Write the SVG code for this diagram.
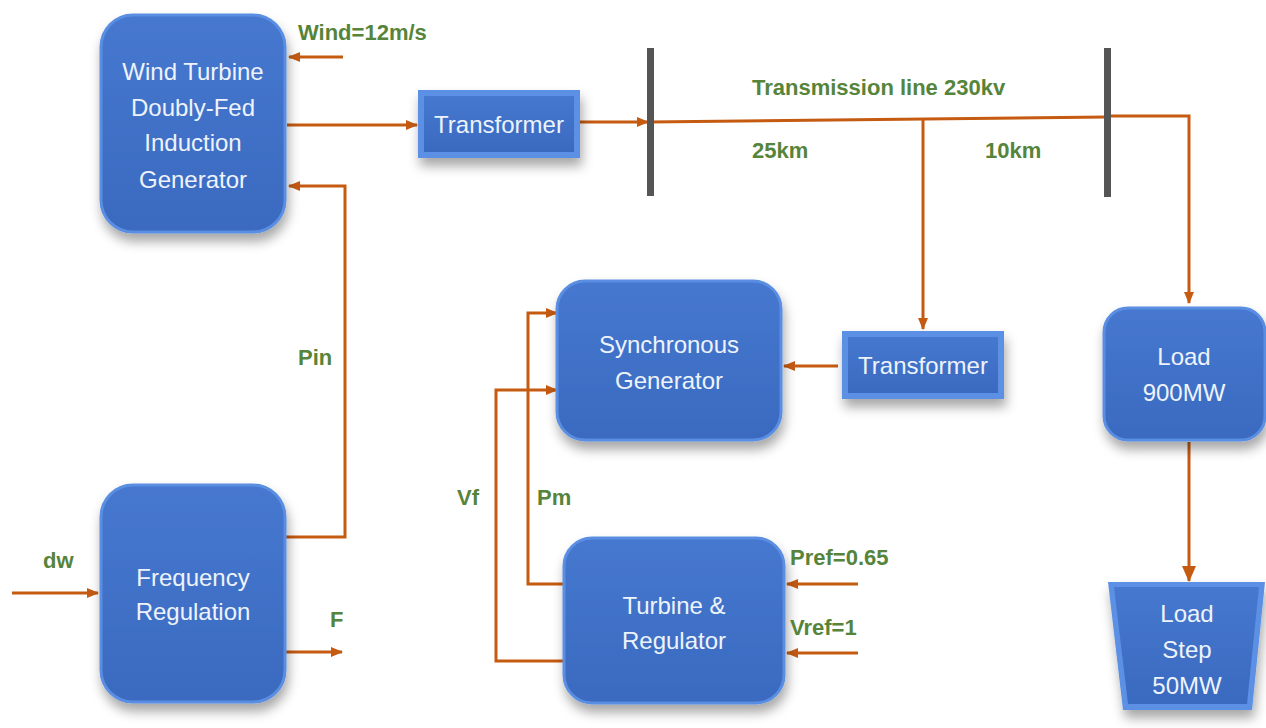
<svg xmlns="http://www.w3.org/2000/svg" width="1266" height="728" viewBox="0 0 1266 728">
<defs>
<style>
.box{fill:url(#bg);stroke:#5a8ee2;stroke-width:3;filter:url(#sh)}
.tr{fill:#5b90e4;filter:url(#sh)}
.tri{fill:url(#bg)}
.t{font-family:"Liberation Sans",Arial,sans-serif;font-size:24px;fill:#eef3fb;text-anchor:middle}
.g{font-family:"Liberation Sans",Arial,sans-serif;font-size:22px;font-weight:bold;fill:#55843a}
.c{fill:none;stroke:#c55a11;stroke-width:3}
.bus{fill:#555}
</style>
<linearGradient id="bg" x1="0" y1="0" x2="0" y2="1">
<stop offset="0" stop-color="#4678cf"/>
<stop offset="1" stop-color="#3a6ac0"/>
</linearGradient>
<filter id="sh" x="-20%" y="-20%" width="140%" height="150%">
<feDropShadow dx="2" dy="8" stdDeviation="6" flood-color="#000" flood-opacity="0.35"/>
</filter>
<marker id="a" markerWidth="12" markerHeight="10" refX="11" refY="5" orient="auto" markerUnits="userSpaceOnUse">
<path d="M0,0 L12,5 L0,10 Z" fill="#c55a11"/>
</marker>
<marker id="ab" markerWidth="16" markerHeight="14" refX="15" refY="7" orient="auto" markerUnits="userSpaceOnUse">
<path d="M0,0 L16,7 L0,14 Z" fill="#c55a11"/>
</marker>
</defs>
<rect width="1266" height="728" fill="#fff"/>

<g id="connectors">
<path class="c" d="M343,57 H289" marker-end="url(#a)"/>
<path class="c" d="M287,125 H417" marker-end="url(#a)"/>
<path class="c" d="M580,122 H648" marker-end="url(#a)"/>
<path class="c" d="M650,122 L1107,117"/>
<path class="c" d="M1107,116 H1189 V303" marker-end="url(#a)"/>
<path class="c" d="M923,119 V329" marker-end="url(#a)"/>
<path class="c" d="M838,366 H784" marker-end="url(#a)"/>
<path class="c" d="M286,537 H345 V186 H289" marker-end="url(#a)"/>
<path class="c" d="M12,593 H98" marker-end="url(#a)"/>
<path class="c" d="M286,652 H342" marker-end="url(#a)"/>
<path class="c" d="M563,584 H528 V313 H557" marker-end="url(#a)"/>
<path class="c" d="M563,661 H496 V390 H557" marker-end="url(#a)"/>
<path class="c" d="M858,584 H787" marker-end="url(#a)"/>
<path class="c" d="M858,653 H787" marker-end="url(#a)"/>
<path class="c" d="M1189,442 V581" stroke-width="5" marker-end="url(#ab)"/>
</g>

<g id="bus1"><rect class="bus" x="647" y="48" width="7" height="148"/></g>
<g id="bus2"><rect class="bus" x="1104" y="48" width="7" height="149"/></g>

<g id="wtg">
<rect class="box" x="101" y="15" width="184" height="217" rx="32"/>
<text class="t" x="193" y="80">Wind Turbine</text>
<text class="t" x="193" y="116">Doubly-Fed</text>
<text class="t" x="193" y="151">Induction</text>
<text class="t" x="193" y="188">Generator</text>
</g>

<g id="transformer1">
<rect class="tr" x="418" y="90" width="162" height="68"/>
<rect class="tri" x="424" y="96" width="150" height="56"/>
<text class="t" x="499" y="133">Transformer</text>
</g>

<g id="freqreg">
<rect class="box" x="101" y="485" width="184" height="217" rx="32"/>
<text class="t" x="193" y="586">Frequency</text>
<text class="t" x="193" y="620">Regulation</text>
</g>

<g id="syncgen">
<rect class="box" x="557" y="281" width="224" height="159" rx="28"/>
<text class="t" x="669" y="353">Synchronous</text>
<text class="t" x="669" y="389">Generator</text>
</g>

<g id="transformer2">
<rect class="tr" x="842" y="331" width="162" height="68"/>
<rect class="tri" x="848" y="337" width="150" height="56"/>
<text class="t" x="923" y="374">Transformer</text>
</g>

<g id="turbreg">
<rect class="box" x="564" y="538" width="220" height="165" rx="28"/>
<text class="t" x="674" y="614">Turbine &amp;</text>
<text class="t" x="674" y="649">Regulator</text>
</g>

<g id="load">
<rect class="box" x="1104" y="308" width="161" height="132" rx="24"/>
<text class="t" x="1184" y="365">Load</text>
<text class="t" x="1184" y="401">900MW</text>
</g>

<g id="loadstep">
<polygon points="1108,582 1265,582 1252,710 1123,710" fill="#5b90e4" filter="url(#sh)"/>
<polygon points="1114,587 1259,587 1247,704 1128,704" fill="url(#bg)"/>
<text class="t" x="1187" y="622">Load</text>
<text class="t" x="1187" y="658">Step</text>
<text class="t" x="1187" y="694">50MW</text>
</g>

<g id="labels">
<text class="g" x="298" y="40" font-size="20">Wind=12m/s</text>
<text class="g" x="752" y="95" font-size="23">Transmission line 230kv</text>
<text class="g" x="752" y="158" font-size="23">25km</text>
<text class="g" x="985" y="158" font-size="23">10km</text>
<text class="g" x="298" y="365">Pin</text>
<text class="g" x="43" y="568">dw</text>
<text class="g" x="330" y="627">F</text>
<text class="g" x="457" y="505">Vf</text>
<text class="g" x="537" y="505">Pm</text>
<text class="g" x="790" y="565">Pref=0.65</text>
<text class="g" x="790" y="635">Vref=1</text>
</g>
</svg>
